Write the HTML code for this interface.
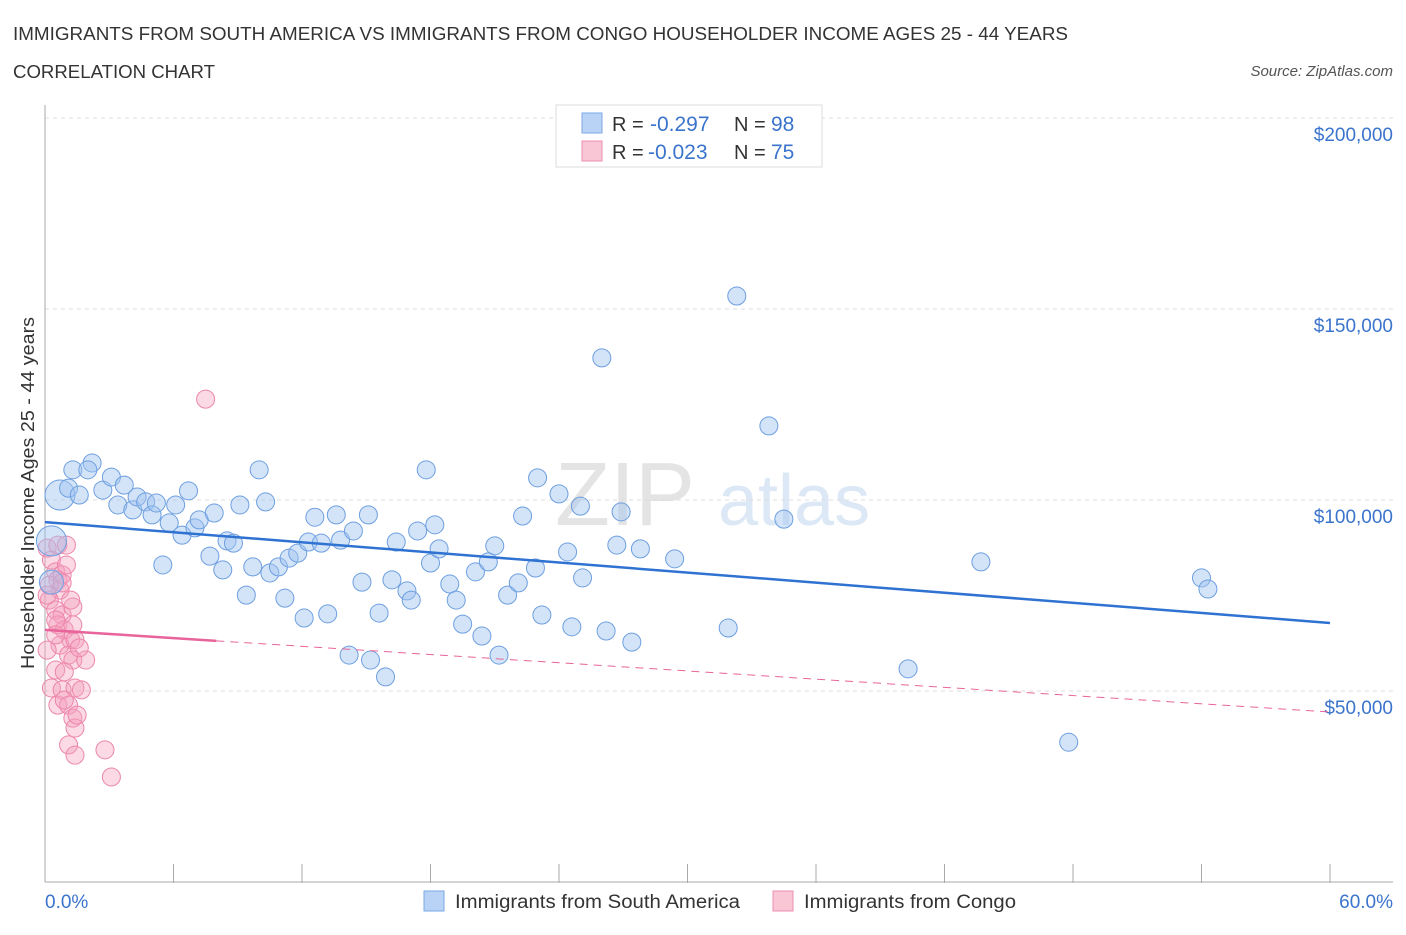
<!DOCTYPE html>
<html><head><meta charset="utf-8"><style>
body{margin:0;background:#fff;font-family:"Liberation Sans",sans-serif;}
svg text{font-family:"Liberation Sans",sans-serif;}
</style></head><body>
<svg id="chart" width="1406" height="930" xmlns="http://www.w3.org/2000/svg">
<text x="13" y="40" font-size="18" fill="#333" textLength="1055" lengthAdjust="spacingAndGlyphs">IMMIGRANTS FROM SOUTH AMERICA VS IMMIGRANTS FROM CONGO HOUSEHOLDER INCOME AGES 25 - 44 YEARS</text>
<text x="13" y="78" font-size="18" fill="#333" textLength="202" lengthAdjust="spacingAndGlyphs">CORRELATION CHART</text>
<text x="1393" y="76" font-size="15" fill="#555" text-anchor="end" font-style="italic">Source: ZipAtlas.com</text>
<text x="555" y="525" font-size="90" fill="#e4e4e4" font-family="Liberation Serif">ZIP</text>
<text x="718" y="525" font-size="72" fill="#dce8f6">atlas</text>
<g id="grid"></g>
<g id="axes"></g>
<g id="marks"></g>
<text transform="translate(34,493) rotate(-90)" font-size="18" fill="#333" text-anchor="middle" textLength="352" lengthAdjust="spacingAndGlyphs">Householder Income Ages 25 - 44 years</text>
<g>
<rect x="556" y="105" width="266" height="62" fill="#fff" stroke="#ddd"/>
<rect x="582" y="113" width="20" height="20" fill="#b8d3f5" stroke="#7aa8e6"/>
<text x="612" y="131" font-size="20" fill="#333">R = </text><text x="650" y="131" font-size="21" fill="#3b74cc">-0.297</text>
<text x="734" y="131" font-size="20" fill="#333">N = </text><text x="771" y="131" font-size="21" fill="#3b74cc">98</text>
<rect x="582" y="141" width="20" height="20" fill="#f9c6d6" stroke="#eb8fb0"/>
<text x="612" y="159" font-size="20" fill="#333">R = </text><text x="648" y="159" font-size="21" fill="#3b74cc">-0.023</text>
<text x="734" y="159" font-size="20" fill="#333">N = </text><text x="771" y="159" font-size="21" fill="#3b74cc">75</text>
</g>
<g>
<rect x="424" y="891" width="20" height="20" fill="#b8d3f5" stroke="#7aa8e6"/>
<text x="455" y="908" font-size="19" fill="#333" textLength="285" lengthAdjust="spacingAndGlyphs">Immigrants from South America</text>
<rect x="773" y="891" width="20" height="20" fill="#f9c6d6" stroke="#eb8fb0"/>
<text x="804" y="908" font-size="19" fill="#333" textLength="212" lengthAdjust="spacingAndGlyphs">Immigrants from Congo</text>
</g>
</svg>
<script>
const blueX=[0.7,1.1,1.3,1.6,2.2,2.0,2.7,3.1,3.4,3.7,4.1,4.3,4.7,5.0,5.2,5.5,5.8,6.1,6.4,6.7,7.0,7.2,7.7,7.9,8.3,8.5,8.8,9.1,9.4,9.7,10.0,10.3,10.5,10.9,11.2,11.4,11.8,12.1,12.3,12.6,12.9,13.2,13.6,13.8,14.2,14.4,14.8,15.1,15.2,15.6,15.9,16.2,16.4,16.9,17.1,17.4,17.8,18.0,18.2,18.4,18.9,19.2,19.5,20.1,20.4,20.7,21.0,21.2,21.6,22.1,22.3,22.9,23.0,23.2,24.0,24.4,24.6,25.0,25.1,26.0,26.2,26.7,26.9,27.4,27.8,29.4,31.9,32.3,33.8,34.5,40.3,43.7,47.8,54.0,54.3,0.3,0.3];
const blueY=[101.3,103.1,107.9,101.3,109.7,107.9,102.6,106.0,98.7,103.9,97.4,100.8,99.5,96.1,99.2,83.0,94.0,98.7,90.8,102.4,92.7,94.8,85.3,96.6,81.7,89.3,88.7,98.7,75.1,82.5,107.9,99.5,80.9,82.5,74.3,84.8,86.1,69.1,89.0,95.5,88.7,70.2,96.1,89.5,59.4,91.9,78.5,96.1,58.1,70.4,53.7,79.1,89.0,76.2,73.8,91.9,107.9,83.5,93.5,87.2,78.0,73.8,67.5,81.2,64.4,83.8,88.0,59.4,75.1,78.3,95.8,82.2,105.8,69.9,101.6,86.4,66.8,98.4,79.6,137.2,65.7,88.2,96.9,62.8,87.2,84.6,66.5,153.4,119.4,95.0,55.8,83.8,36.6,79.6,76.7,89.3,78.5];
const blueR=[15,9,9,9,9,9,9,9,9,9,9,9,9,9,9,9,9,9,9,9,9,9,9,9,9,9,9,9,9,9,9,9,9,9,9,9,9,9,9,9,9,9,9,9,9,9,9,9,9,9,9,9,9,9,9,9,9,9,9,9,9,9,9,9,9,9,9,9,9,9,9,9,9,9,9,9,9,9,9,9,9,9,9,9,9,9,9,9,9,9,9,9,9,9,9,15,12];
const pinkX=[0.1,0.3,0.5,0.6,0.7,0.2,0.5,0.8,0.6,0.9,1.2,0.7,1.1,1.3,0.5,0.9,0.3,0.8,1.4,1.7,0.6,1.1,1.3,1.4,1.1,1.4,2.8,3.1,1.9,1.3,0.8,0.2,0.1,0.5,1.0,0.6,1.0,0.8,1.2,1.4,1.6,1.3,0.5,0.1,0.9,1.5,7.5];
const pinkY=[87.4,84.3,81.2,79.1,76.4,73.8,71.2,69.9,67.3,66.0,63.4,62.0,59.4,58.1,55.5,55.0,50.8,50.3,50.8,50.3,46.3,46.3,42.9,40.3,35.9,33.2,34.6,27.5,58.1,72.0,80.4,77.7,75.1,68.6,83.0,88.2,88.2,78.3,73.8,63.4,61.3,67.3,64.7,60.7,47.6,43.7,126.4];
const yTicks=[50,100,150,200];
const yTickLabels=["$50,000","$100,000","$150,000","$200,000"];
const xTickCount=10;
const blueTrend=[94.2,67.8];
const pinkTrend=[66.0,44.5];
const pinkSolidEnd=8;
const X0=45,X1=1330,Y0=882,PXK=3.82;
const sx=v=>X0+(v/60)*(X1-X0);
const sy=v=>Y0-v*PXK;
const NS="http://www.w3.org/2000/svg";
function mk(tag,attrs,parent){const e=document.createElementNS(NS,tag);for(const k in attrs)e.setAttribute(k,attrs[k]);parent.appendChild(e);return e;}
const grid=document.getElementById('grid'),axes=document.getElementById('axes'),marks=document.getElementById('marks');
yTicks.forEach((t,i)=>{
  const l=mk('line',{x1:X0,x2:1393,y1:sy(t),y2:sy(t),stroke:'#ddd','stroke-dasharray':'4,4'},grid);
  
  
  const tx=mk('text',{x:1393,y:sy(t)+23,'font-size':19,fill:'#3b74cc','text-anchor':'end'},axes);
  tx.textContent=yTickLabels[i];
  
  
});
const ya=mk('line',{x1:X0,x2:X0,y1:105,y2:Y0,stroke:'#aaa'},axes);


const xa=mk('line',{x1:X0,x2:1393,y1:Y0,y2:Y0,stroke:'#aaa'},axes);


for(let i=1;i<=xTickCount;i++){
  const xx=sx(i*60/xTickCount);
  const tk=mk('line',{x1:xx,x2:xx,y1:Y0-18,y2:Y0+1,stroke:'#aaa'},axes);
  
  
}
const xl0=mk('text',{x:X0,y:908,'font-size':19,fill:'#3b74cc'},axes);xl0.textContent='0.0%';


const xl1=mk('text',{x:1393,y:908,'font-size':19,fill:'#3b74cc','text-anchor':'end'},axes);xl1.textContent='60.0%';


pinkX.forEach((x,i)=>{
  const c=mk('circle',{cx:sx(x),cy:sy(pinkY[i]),r:9,fill:'rgba(244,160,190,0.4)',stroke:'#ec86aa','stroke-width':1},marks);
  
  
});
blueX.forEach((x,i)=>{
  const c=mk('circle',{cx:sx(x),cy:sy(blueY[i]),r:blueR[i],fill:'rgba(160,196,240,0.45)',stroke:'#6d9fe0','stroke-width':1},marks);
  
  
});
const bt=mk('line',{x1:sx(0),y1:sy(blueTrend[0]),x2:sx(60),y2:sy(blueTrend[1]),stroke:'#2f72d2','stroke-width':2.5},marks);


const pAt=x=>pinkTrend[0]+(pinkTrend[1]-pinkTrend[0])*x/60;
const ps=mk('line',{x1:sx(0),y1:sy(pAt(0)),x2:sx(pinkSolidEnd),y2:sy(pAt(pinkSolidEnd)),stroke:'#e8649a','stroke-width':2.5},marks);


const pd=mk('line',{x1:sx(pinkSolidEnd),y1:sy(pAt(pinkSolidEnd)),x2:sx(60),y2:sy(pAt(60)),stroke:'#e8649a','stroke-width':1,'stroke-dasharray':'8,6'},marks);


</script>
</body></html>
